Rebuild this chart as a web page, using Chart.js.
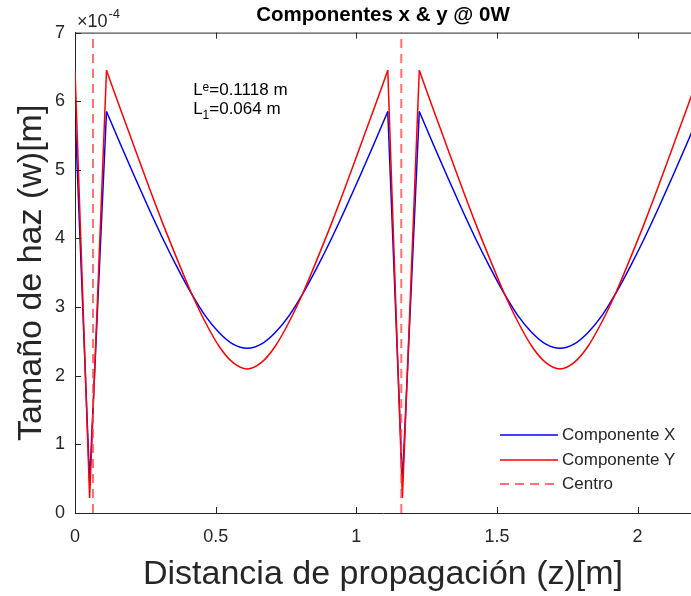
<!DOCTYPE html>
<html lang="es">
<head>
  <title>Componentes x &amp; y @ 0W</title>
  <meta charset="UTF-8" />
  <script src="https://cdn.jsdelivr.net/npm/chart.js"></script>
  <style>
    html, body { margin: 0; padding: 0; background: #fff; }
  </style>
</head>
<body>
  <canvas id="myChart" width="691" height="596"></canvas>

  <script>
    // values (y in units of 1e-4 m)
    const zArc1 = [0.112, 0.162, 0.212, 0.262, 0.312, 0.362, 0.412, 0.462, 0.512, 0.562, 0.612,
                   0.662, 0.712, 0.762, 0.812, 0.862, 0.912, 0.962, 1.012, 1.062, 1.112];
    const zArc2 = [1.224, 1.274, 1.324, 1.374, 1.424, 1.474, 1.524, 1.574, 1.624, 1.674, 1.724,
                   1.774, 1.824, 1.874, 1.924, 1.974, 2.024, 2.074, 2.124, 2.174, 2.224];
    const compXArc1 = [5.85, 5.37, 4.90, 4.44, 4.00, 3.59, 3.21, 2.88, 2.63, 2.46, 2.40,
                       2.46, 2.63, 2.88, 3.21, 3.59, 4.00, 4.44, 4.90, 5.37, 5.85];
    const compXArc2 = [5.85, 5.37, 4.90, 4.44, 4.00, 3.59, 3.21, 2.88, 2.63, 2.46, 2.40,
                       2.46, 2.63, 2.88, 3.21, 3.59, 4.00, 4.44, 4.90, 5.37, 5.85];
    const compYArc1 = [6.45, 5.88, 5.32, 4.76, 4.22, 3.71, 3.22, 2.79, 2.43, 2.19, 2.10,
                       2.19, 2.43, 2.79, 3.22, 3.71, 4.22, 4.76, 5.32, 5.88, 6.45];
    const compYArc2 = [6.45, 5.88, 5.32, 4.76, 4.22, 3.71, 3.22, 2.79, 2.43, 2.19, 2.10,
                       2.19, 2.43, 2.79, 3.22, 3.71, 4.22, 4.76, 5.32, 5.88, 6.45];
    const zSpike1 = [0, 0.052, 0.112];
    const zSpike2 = [1.112, 1.164, 1.224];
    const compXSpike = [5.85, 0.45, 5.85];
    const compYSpike = [6.45, 0.22, 6.45];
    const zCentro = [0.064, 1.160];
    const yTicks = [0, 1, 2, 3, 4, 5, 6, 7];
    const xTicks = [0, 0.5, 1, 1.5, 2];

    const FONT = "'Liberation Sans', Arial, Helvetica, sans-serif";
    const AXIS = '#262626';
    const BLUE = '#0000ff';
    const RED = '#ff0000';
    const CENTRO = 'rgba(255, 60, 60, 0.72)';

    function pts(zs, ws) {
      return zs.map((z, i) => ({ x: z, y: ws[i] }));
    }
    function join(a, b) {
      // null point in between so the two pieces are not connected
      const gapX = (a[a.length - 1].x + b[0].x) / 2;
      return a.concat([{ x: gapX, y: null }], b);
    }

    const centroData = join(
      [{ x: zCentro[0], y: yTicks[0] }, { x: zCentro[0], y: yTicks[yTicks.length - 1] }],
      [{ x: zCentro[1], y: yTicks[0] }, { x: zCentro[1], y: yTicks[yTicks.length - 1] }]
    );

    // inward ticks, top box line, exponent, annotation and legend (MATLAB look)
    const matlabBits = {
      id: 'matlabBits',
      afterDraw(chart) {
        const ctx = chart.ctx;
        const area = chart.chartArea;
        const xs = chart.scales.x;
        const ys = chart.scales.y;
        ctx.save();

        ctx.strokeStyle = AXIS;
        ctx.lineWidth = 1;
        ctx.beginPath();
        ctx.moveTo(area.left, area.top + 0.5);
        ctx.lineTo(area.right, area.top + 0.5);
        xTicks.forEach(v => {
          const px = Math.round(xs.getPixelForValue(v)) + 0.5;
          ctx.moveTo(px, area.bottom);
          ctx.lineTo(px, area.bottom - 6);
          ctx.moveTo(px, area.top);
          ctx.lineTo(px, area.top + 6);
        });
        yTicks.forEach(v => {
          const py = Math.round(ys.getPixelForValue(v)) + 0.5;
          ctx.moveTo(area.left, py);
          ctx.lineTo(area.left + 6, py);
        });
        ctx.stroke();

        // x10^-4
        ctx.fillStyle = AXIS;
        ctx.textBaseline = 'alphabetic';
        ctx.textAlign = 'left';
        ctx.font = '18px ' + FONT;
        ctx.fillText('\u00d710', area.left + 2, 27);
        const w10 = ctx.measureText('\u00d710').width;
        ctx.font = '13px ' + FONT;
        ctx.fillText('-4', area.left + 3 + w10, 18);

        // annotation
        const ax = xs.getPixelForValue(0.42);
        ctx.fillStyle = '#000';
        ctx.font = '17px ' + FONT;
        ctx.fillText('L', ax, 95);
        const wl = ctx.measureText('L').width;
        ctx.font = '12px ' + FONT;
        ctx.fillText('e', ax + wl, 91);
        const we = ctx.measureText('e').width;
        ctx.font = '17px ' + FONT;
        ctx.fillText('=0.1118 m', ax + wl + we, 95);
        ctx.fillText('L', ax, 114);
        ctx.font = '12px ' + FONT;
        ctx.fillText('1', ax + wl, 119);
        const w1 = ctx.measureText('1').width;
        ctx.font = '17px ' + FONT;
        ctx.fillText('=0.064 m', ax + wl + w1, 114);

        // legend
        const entries = [
          { label: 'Componente X', color: BLUE, dash: [], width: 1.5 },
          { label: 'Componente Y', color: RED, dash: [], width: 1.5 },
          { label: 'Centro', color: CENTRO, dash: [9, 6], width: 2 }
        ];
        const rowY = [435, 460, 484];
        ctx.font = '17px ' + FONT;
        ctx.textBaseline = 'middle';
        entries.forEach((e, i) => {
          ctx.strokeStyle = e.color;
          ctx.lineWidth = e.width;
          ctx.setLineDash(e.dash);
          ctx.beginPath();
          ctx.moveTo(500, rowY[i]);
          ctx.lineTo(558, rowY[i]);
          ctx.stroke();
          ctx.setLineDash([]);
          ctx.fillStyle = AXIS;
          ctx.fillText(e.label, 562, rowY[i]);
        });
        ctx.restore();
      }
    };

    const ctx = document.getElementById('myChart').getContext('2d');
    const myChart = new Chart(ctx, {
      type: 'line',
      data: {
        datasets: [
          {
            label: 'Centro',
            data: centroData,
            borderColor: CENTRO,
            borderWidth: 2,
            borderDash: [9, 6],
            pointRadius: 0,
            tension: 0,
            order: 0
          },
          {
            label: 'Componente Y',
            data: join(pts(zSpike1, compYSpike), pts(zSpike2, compYSpike)),
            borderColor: RED,
            borderWidth: 1.5,
            pointRadius: 0,
            tension: 0,
            order: 1
          },
          {
            label: 'Componente Y',
            data: join(pts(zArc1, compYArc1), pts(zArc2, compYArc2)),
            borderColor: RED,
            borderWidth: 1.5,
            pointRadius: 0,
            cubicInterpolationMode: 'monotone',
            order: 1
          },
          {
            label: 'Componente X',
            data: join(pts(zSpike1, compXSpike), pts(zSpike2, compXSpike)),
            borderColor: BLUE,
            borderWidth: 1.5,
            pointRadius: 0,
            tension: 0,
            order: 2
          },
          {
            label: 'Componente X',
            data: join(pts(zArc1, compXArc1), pts(zArc2, compXArc2)),
            borderColor: BLUE,
            borderWidth: 1.5,
            pointRadius: 0,
            cubicInterpolationMode: 'monotone',
            order: 2
          }
        ]
      },
      options: {
        responsive: false,
        animation: false,
        spanGaps: false,
        layout: { padding: 0 },
        plugins: {
          legend: { display: false },
          tooltip: { enabled: false },
          title: {
            display: true,
            text: 'Componentes x & y @ 0W',
            fullSize: false,
            color: '#000',
            font: { family: FONT, size: 20.5, weight: 'bold' },
            padding: { top: 3, bottom: 5 }
          }
        },
        scales: {
          x: {
            type: 'linear',
            min: 0,
            max: 2.19,
            border: { display: true, color: AXIS, width: 1 },
            grid: { display: true, drawOnChartArea: false, drawTicks: false },
            ticks: {
              stepSize: 0.5,
              includeBounds: false,
              color: AXIS,
              padding: 13,
              maxRotation: 0,
              font: { family: FONT, size: 18 },
              callback: v => String(v)
            },
            title: {
              display: true,
              text: 'Distancia de propagación (z)[m]',
              color: AXIS,
              font: { family: FONT, size: 34 },
              padding: { top: 0, bottom: 1 }
            },
            afterFit(scale) { scale.height = 83; }
          },
          y: {
            min: 0,
            max: 7,
            border: { display: true, color: AXIS, width: 1 },
            grid: { display: true, drawOnChartArea: false, drawTicks: false },
            ticks: {
              stepSize: 1,
              color: AXIS,
              padding: 10,
              font: { family: FONT, size: 18 },
              callback: v => String(v)
            },
            title: {
              display: true,
              text: 'Tamaño de haz (w)[m]',
              color: AXIS,
              font: { family: FONT, size: 34 },
              padding: { top: 11, bottom: 0 }
            },
            afterFit(scale) { scale.width = 75; }
          }
        }
      },
      plugins: [matlabBits]
    });
  </script>
</body>
</html>
